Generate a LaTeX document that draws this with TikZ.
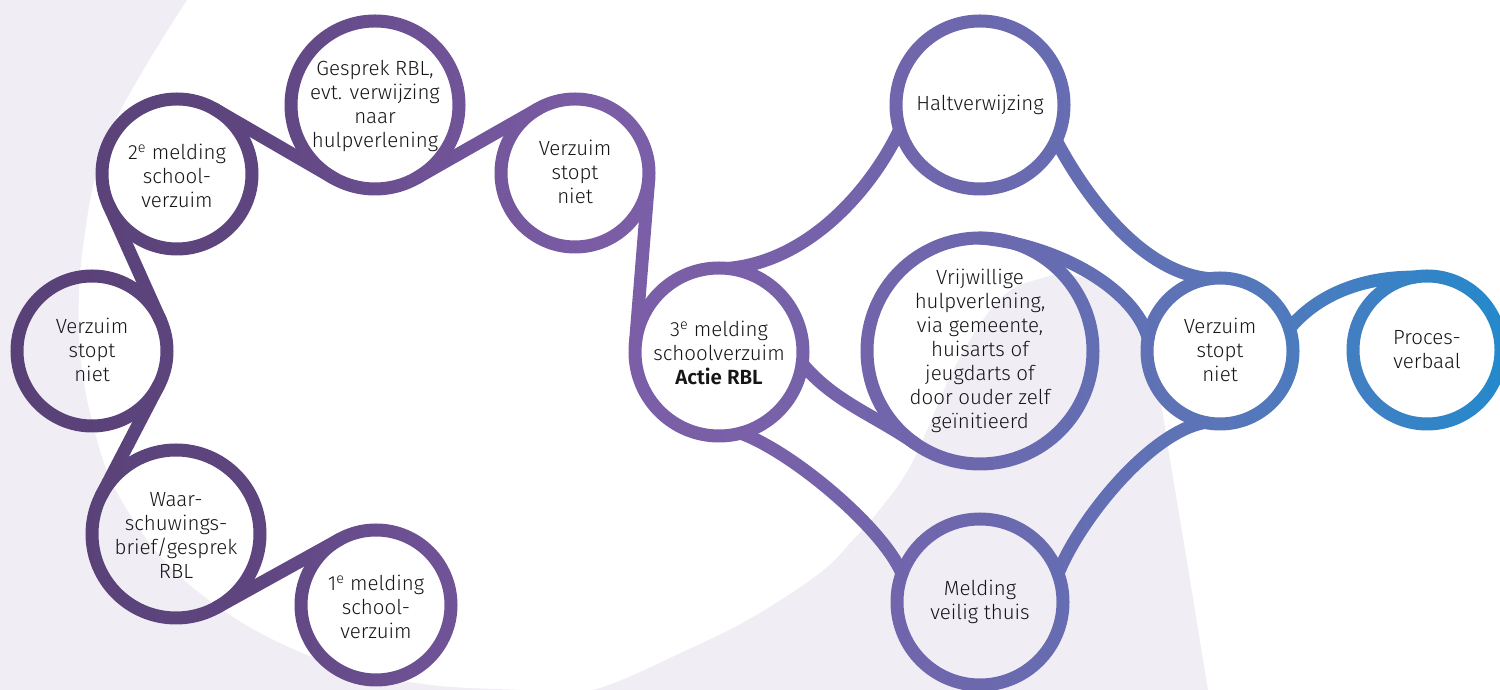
\documentclass[tikz,border=0pt]{standalone}
\usepackage{fontspec}
\IfFontExistsTF{Fira Sans Light}{%
  \IfFontExistsTF{Fira Sans SemiBold}%
    {\setmainfont{Fira Sans Light}[BoldFont={Fira Sans SemiBold}]}%
    {\setmainfont{Fira Sans Light}[BoldFont={Fira Sans}]}%
}{\setmainfont{Fira Sans}}
\usetikzlibrary{fadings}
\definecolor{lav}{RGB}{241,237,245}
\definecolor{txt}{RGB}{22,22,22}
\definecolor{gA}{RGB}{88,65,118}
\definecolor{gB}{RGB}{94,69,127}
\definecolor{gC}{RGB}{108,80,146}
\definecolor{gD}{RGB}{123,93,166}
\definecolor{gE}{RGB}{121,96,168}
\definecolor{gF}{RGB}{108,104,174}
\definecolor{gG}{RGB}{90,117,184}
\definecolor{gH}{RGB}{66,127,194}
\definecolor{gI}{RGB}{36,137,203}
\pgfdeclarehorizontalshading{netgrad}{100bp}{color(0bp)=(gA); color(25bp)=(gA); color(33.33bp)=(gB); color(38.33bp)=(gC); color(45bp)=(gD); color(50bp)=(gE); color(57.67bp)=(gF); color(65.67bp)=(gG); color(70bp)=(gH); color(75bp)=(gI); color(100bp)=(gI)}
\tikzset{
  ring/.style={circle, draw=transparent!0, line width=13pt, inner sep=0pt, outer sep=0pt},
  band/.style={draw=transparent!0, line width=13pt, line cap=round},
  label/.style={align=center, text=txt, inner sep=0pt, font=\fontsize{20.5}{24}\selectfont}
}
\begin{tikzfadingfrompicture}[name=net, x=1pt, y=1pt]
  \path[use as bounding box] (0,0) rectangle (1500,690);
  \node[ring, minimum size=150pt] (A) at (177,516) {};
  \node[ring, minimum size=168pt] (B) at (375,585) {};
  \node[ring, minimum size=148pt] (C) at (575,517) {};
  \node[ring, minimum size=150pt] (D) at (92,339) {};
  \node[ring, minimum size=168pt] (E) at (176,156) {};
  \node[ring, minimum size=150pt] (F) at (376,85) {};
  \node[ring, minimum size=168pt] (G) at (719,338) {};
  \node[ring, minimum size=168pt] (H) at (980,585) {};
  \node[ring, minimum size=226pt] (I) at (980,339) {};
  \node[ring, minimum size=166pt] (J) at (980,88) {};
  \node[ring, minimum size=146pt] (K) at (1220,339) {};
  \node[ring, minimum size=148pt] (L) at (1427,340) {};
  \draw[band] (E.-61) -- (F.119);
  \draw[band] (E.153) -- (D.333);
  \draw[band] (D.24) -- (A.204);
  \draw[band] (A.60) -- (B.240);
  \draw[band] (B.-60) -- (C.120);
  \draw[band] (C.-5) -- (G.175);
  \draw[band] (G.84) .. controls +(5:85) and +(245:60) .. (H.197);
  \draw[band] (H.-25) .. controls +(-62:60) and +(175:70) .. (K.98);
  \draw[band] (G.-75) .. controls +(-20:55) and +(113:50) .. (J.160);
  \draw[band] (J.20) .. controls +(68:60) and +(190:55) .. (K.258);
  \draw[band] (G.-8) .. controls +(-50:50) and +(145:50) .. (I.235);
  \draw[band] (I.90) .. controls +(-5:80) and +(105:50) .. (K.170);
  \draw[band] (K.18) .. controls +(50:50) and +(180:45) .. (L.100);
\end{tikzfadingfrompicture}
\begin{document}
\begin{tikzpicture}[x=1pt, y=1pt]
  \path[use as bounding box, fill=white] (0,0) rectangle (1500,690);
  \fill[lav] (0,690) -- plot[smooth, tension=0.6] coordinates {(187,690) (110,558) (83,443) (80,338) (97,250) (120,192) (167,126) (233,73) (300,38) (367,16) (440,4) (520,0) (565,-3)} -- (0,-3) -- cycle;
  \fill[lav] plot[smooth, tension=0.6] coordinates {(540,-5) (600,2) (687,40) (753,73) (820,117) (853,150) (877,177) (912,227) (957,327) (1002,393) (1046,413) (1069,415) (1098,407) (1125,385) (1145,340) (1160,290) (1170,230) (1190,110) (1208,0) (1210,-5)} -- cycle;
  \shade[shading=netgrad, path fading=net, fit fading=false, fading transform={shift={(750,345)}}] (0,0) rectangle (1500,690);
  \node[label] (tA) at (177,514) {2\textsuperscript{e} melding\\school-\\verzuim};
  \node[label] (tB) at (375,584) {Gesprek RBL,\\evt. verwijzing\\naar\\hulpverlening};
  \node[label] (tC) at (575,518) {Verzuim\\stopt\\niet};
  \node[label] (tD) at (92,340) {Verzuim\\stopt\\niet};
  \node[label] (tE) at (176,155) {Waar-\\schuwings-\\brief/gesprek\\RBL};
  \node[label] (tF) at (376,83) {1\textsuperscript{e} melding\\school-\\verzuim};
  \node[label] (tG) at (719,337) {3\textsuperscript{e} melding\\schoolverzuim\\\textbf{Actie RBL}};
  \node[label] (tH) at (980,585) {Haltverwijzing};
  \node[label] (tI) at (980,339) {Vrijwillige\\hulpverlening,\\via gemeente,\\huisarts of\\jeugdarts of\\door ouder zelf\\geïnitieerd};
  \node[label] (tJ) at (980,88) {Melding\\veilig thuis};
  \node[label] (tK) at (1220,340) {Verzuim\\stopt\\niet};
  \node[label] (tL) at (1427,340) {Proces-\\verbaal};
\end{tikzpicture}
\end{document}
